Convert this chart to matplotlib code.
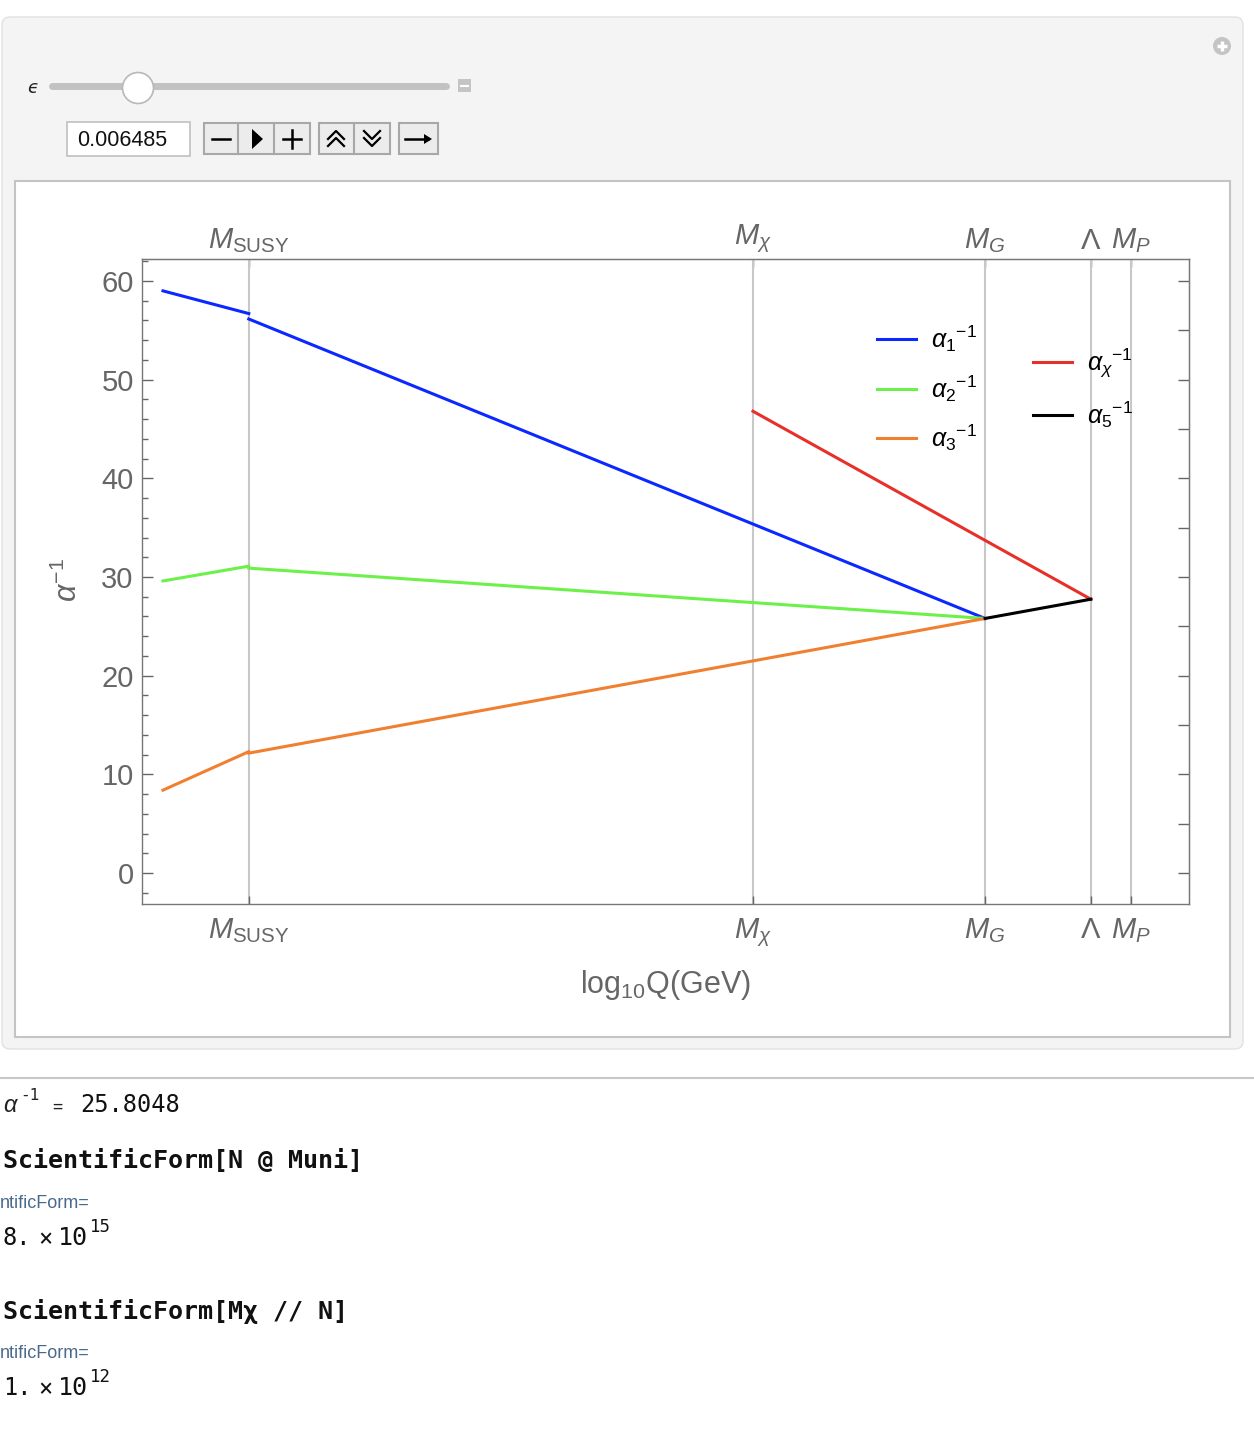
import matplotlib
matplotlib.use("Agg")
import matplotlib.pyplot as plt
from matplotlib.patches import FancyBboxPatch, Rectangle, Circle, Polygon

plt.rcParams['font.family'] = ['Liberation Sans', 'DejaVu Sans']
plt.rcParams['mathtext.fontset'] = 'custom'
plt.rcParams['mathtext.rm'] = 'Liberation Sans'
plt.rcParams['mathtext.it'] = 'Liberation Sans:italic'
plt.rcParams['mathtext.bf'] = 'Liberation Sans:bold'

# ---------------- data (log10 Q in GeV, inverse couplings) ----------------
scale_labels = [r'$M_{\mathrm{SUSY}}$', r'$M_{\chi}$', r'$M_G$', r'$\Lambda$', r'$M_P$']
scale_log10 = [3.42, 12.0, 15.95, 17.75, 18.43]
log_mZ = 1.96
log_MSUSY = 3.42
log_Mchi = 12.0
log_MG = 15.95
log_Lambda = 17.75

alpha1_low = [59.0, 56.7]
alpha1_high = [56.15, 25.8]
alpha2_low = [29.6, 31.1]
alpha2_high = [30.9, 25.8]
alpha3_low = [8.4, 12.3]
alpha3_high = [12.15, 25.8]
alphachi = [46.8, 27.75]
alpha5 = [25.8, 27.75]

yticks = [0, 10, 20, 30, 40, 50, 60]
right_ticks = [0, 5, 10, 15, 20, 25, 30, 35, 40, 45, 50, 55, 60]
eps_value = "0.006485"
alpha_unif = "25.8048"

W, H = 1254, 1430
fig = plt.figure(figsize=(W / 100, H / 100), dpi=100)
fig.patch.set_facecolor('white')

# background decoration axes in pixel coordinates
bg = fig.add_axes([0, 0, 1, 1], zorder=0)
bg.set_xlim(0, W)
bg.set_ylim(H, 0)
bg.axis('off')

bg.add_patch(FancyBboxPatch((2, 17), 1241, 1032, boxstyle="round,pad=0,rounding_size=8",
                            fc='#f4f4f4', ec='#e2e2e2', lw=1))
bg.add_patch(Rectangle((15, 181), 1215, 856, fc='white', ec='#c4c4c4', lw=1.5))

# plus icon
bg.add_patch(Circle((1222, 46), 9, fc='#c4c4c4', ec='none'))
bg.plot([1217, 1227], [46, 46], color='white', lw=2.5, solid_capstyle='butt')
bg.plot([1222, 1222], [41, 51], color='white', lw=2.5, solid_capstyle='butt')

# slider
bg.text(33, 88, '\u03f5', fontsize=13, family='DejaVu Sans', style='italic',
        ha='center', va='center', color='#222222')
bg.plot([52, 446], [86, 86], color='#c2c2c2', lw=5, solid_capstyle='round')
bg.add_patch(Circle((138, 88), 15.5, fc='white', ec='#b8b8b8', lw=1.2, zorder=3))
bg.add_patch(Rectangle((458, 79), 13, 13, fc='#c4c4c4', ec='none'))
bg.plot([461, 468], [85.5, 85.5], color='white', lw=1.5)

# value box
bg.add_patch(Rectangle((67, 122), 123, 34, fc='white', ec='#c0c0c0', lw=1.2))
bg.text(77, 140, eps_value, fontsize=15.5, ha='left', va='center', color='#111111')

# buttons
for (x0, x1) in [(204, 310), (319, 390), (399, 438)]:
    bg.add_patch(Rectangle((x0, 123), x1 - x0, 31, fc='#ececec', ec='#a8a8a8', lw=1.5))
for xd in [238, 274, 354]:
    bg.plot([xd, xd], [123, 154], color='#a8a8a8', lw=1.5)
bg.plot([212, 230], [139, 139], color='black', lw=1.8)
bg.add_patch(Polygon([(252, 129), (252, 149), (263, 139)], closed=True, fc='black', ec='none'))
bg.plot([283, 301], [139, 139], color='black', lw=1.8)
bg.plot([292, 292], [130, 148], color='black', lw=1.8)
bg.plot([328, 336, 344], [139, 131, 139], color='black', lw=1.6)
bg.plot([328, 336, 344], [146, 138, 146], color='black', lw=1.6)
bg.plot([364, 372, 380], [131, 139, 131], color='black', lw=1.6)
bg.plot([364, 372, 380], [138, 146, 138], color='black', lw=1.6)
bg.plot([405, 428], [139, 139], color='black', lw=1.8)
bg.add_patch(Polygon([(424, 134), (432, 139), (424, 144)], closed=True, fc='black', ec='none'))

# output cells
bg.plot([0, W], [1078, 1078], color='#c8c8c8', lw=1.5)
mono = 'DejaVu Sans Mono'
bg.text(3, 1106, r'$\alpha$', fontsize=17, ha='left', va='center', color='#222222')
bg.text(20, 1095, '-1', fontsize=11.5, family=mono, ha='left', va='center', color='#222222')
bg.text(52, 1107, '=', fontsize=12, family=mono, ha='left', va='center', color='#222222')
bg.text(80, 1105, alpha_unif, fontsize=17, family=mono, ha='left', va='center', color='#111111')

bg.text(3, 1161, 'ScientificForm[N @ Muni]', fontsize=18, family=mono, weight='bold',
        ha='left', va='center', color='#111111')
bg.text(0, 1204, 'ntificForm=', fontsize=13, ha='left', va='center', color='#4a6a8c')
bg.text(3, 1238, '8.', fontsize=17, family=mono, ha='left', va='center', color='#111111')
bg.text(38, 1239, '×', fontsize=17, family=mono, ha='left', va='center', color='#111111')
bg.text(58, 1238, '10', fontsize=18, family=mono, ha='left', va='center', color='#111111')
bg.text(90, 1227, '15', fontsize=12.5, family=mono, ha='left', va='center', color='#111111')

bg.text(3, 1311, 'ScientificForm[Mχ // N]', fontsize=18, family=mono, weight='bold',
        ha='left', va='center', color='#111111')
bg.text(0, 1354, 'ntificForm=', fontsize=13, ha='left', va='center', color='#4a6a8c')
bg.text(3, 1388, '1.', fontsize=17, family=mono, ha='left', va='center', color='#111111')
bg.text(38, 1389, '×', fontsize=17, family=mono, ha='left', va='center', color='#111111')
bg.text(58, 1388, '10', fontsize=18, family=mono, ha='left', va='center', color='#111111')
bg.text(90, 1377, '12', fontsize=12.5, family=mono, ha='left', va='center', color='#111111')

# ---------------- main plot ----------------
L, R, T, B = 142, 1189, 259, 904
ax = fig.add_axes([L / W, 1 - B / H, (R - L) / W, (B - T) / H], zorder=2)
ax.set_facecolor('white')

gray = '#666666'
lw = 2.2
c1, c2, c3, cchi, c5 = '#0a28ff', '#6cf04a', '#f08030', '#e8302a', '#000000'

ax.plot([log_mZ, log_MSUSY], alpha1_low, color=c1, lw=lw, label=r'$\alpha_1{}^{-1}$')
ax.plot([log_MSUSY, log_MG], alpha1_high, color=c1, lw=lw)
ax.plot([log_mZ, log_MSUSY], alpha2_low, color=c2, lw=lw, label=r'$\alpha_2{}^{-1}$')
ax.plot([log_MSUSY, log_MG], alpha2_high, color=c2, lw=lw)
ax.plot([log_mZ, log_MSUSY], alpha3_low, color=c3, lw=lw, label=r'$\alpha_3{}^{-1}$')
ax.plot([log_MSUSY, log_MG], alpha3_high, color=c3, lw=lw)
ax.plot([log_Mchi, log_Lambda], alphachi, color=cchi, lw=lw, label=r'$\alpha_{\chi}{}^{-1}$')
ax.plot([log_MG, log_Lambda], alpha5, color=c5, lw=lw, label=r'$\alpha_5{}^{-1}$')

ax.set_xlim(1.603, 19.42)
ax.set_ylim(-3.14, 62.23)

ax.set_xticks(scale_log10)
ax.set_xticklabels(scale_labels)
ax.set_yticks(yticks)
ax.set_yticks(range(-2, 63, 2), minor=True)
ax.tick_params(axis='x', which='both', direction='in', top=False, bottom=True,
               labeltop=False, labelbottom=True, length=6, width=1, color=gray,
               labelsize=21, labelcolor=gray, pad=9)
ax.tick_params(axis='y', which='major', direction='in', left=True, right=False,
               length=8, width=1, color=gray, labelsize=21, labelcolor=gray, pad=6)
ax.tick_params(axis='y', which='minor', direction='in', left=True, right=False,
               length=4, width=1, color=gray)

top = ax.secondary_xaxis('top')
top.set_xticks(scale_log10)
top.set_xticklabels(scale_labels)
top.tick_params(direction='in', length=6, width=1, color=gray, labelsize=21,
                labelcolor=gray, pad=3)
top.spines['top'].set_color('#777777')

right = ax.secondary_yaxis('right')
right.set_yticks(right_ticks)
right.set_yticklabels([])
right.tick_params(direction='in', length=8, width=1, color=gray)
right.spines['right'].set_color('#777777')

ax.xaxis.grid(True, color='#c8c8c8', lw=1.5, zorder=0)
ax.set_axisbelow(True)
for s in ax.spines.values():
    s.set_color('#777777')
    s.set_linewidth(1)

ax.text(-0.0707, 0.502, r'$\alpha^{-1}$', transform=ax.transAxes, rotation=90,
        ha='center', va='center', fontsize=22, color=gray)
ax.text(0.4995, -0.1256, r'$\mathrm{log}_{10}\mathrm{Q(GeV)}$', transform=ax.transAxes,
        ha='center', va='center', fontsize=22, color=gray)

h, l = ax.get_legend_handles_labels()
leg1 = ax.legend(h[:3], l[:3], loc='upper left', bbox_to_anchor=(0.702, 0.8995),
                 frameon=False, fontsize=18, handlelength=1.55, handletextpad=0.6,
                 labelspacing=0.75, borderpad=0, borderaxespad=0)
ax.add_artist(leg1)
leg2 = ax.legend(h[3:], l[3:], loc='upper left', bbox_to_anchor=(0.851, 0.864),
                 frameon=False, fontsize=18, handlelength=1.55, handletextpad=0.6,
                 labelspacing=0.78, borderpad=0, borderaxespad=0)

fig.savefig('out.png', dpi=100)
